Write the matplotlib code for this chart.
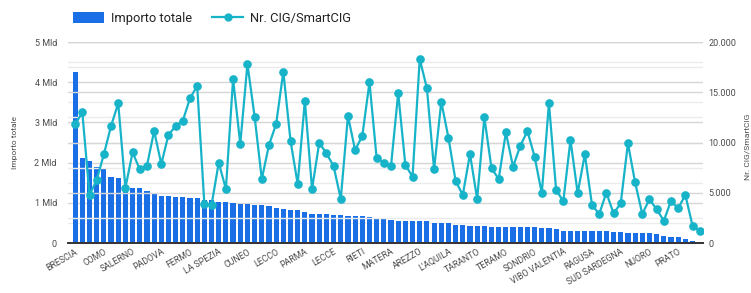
import matplotlib
matplotlib.use("Agg")
import matplotlib.pyplot as plt
import numpy as np
from matplotlib.ticker import FuncFormatter, MultipleLocator
from matplotlib.lines import Line2D
from matplotlib.patches import Patch

plt.rcParams['font.family'] = ['Roboto', 'DejaVu Sans']

tick_labels = ["BRESCIA", "COMO", "SALERNO", "PADOVA", "FERMO", "LA SPEZIA", "CUNEO",
               "LECCO", "PARMA", "LECCE", "RIETI", "MATERA", "AREZZO", "L'AQUILA",
               "TARANTO", "TERAMO", "SONDRIO", "VIBO VALENTIA", "RAGUSA", "SUD SARDEGNA",
               "NUORO", "PRATO"]

importo_mld = [4.26, 2.11, 2.05, 1.90, 1.83, 1.65, 1.62, 1.42, 1.38, 1.36,
               1.29, 1.22, 1.17, 1.17, 1.15, 1.14, 1.13, 1.11, 1.08, 1.06,
               1.03, 1.01, 0.99, 0.98, 0.97, 0.95, 0.94, 0.91, 0.88, 0.85,
               0.82, 0.82, 0.76, 0.72, 0.72, 0.72, 0.69, 0.69, 0.68, 0.68,
               0.66, 0.65, 0.61, 0.60, 0.58, 0.56, 0.56, 0.55, 0.55, 0.55,
               0.50, 0.49, 0.49, 0.46, 0.45, 0.43, 0.43, 0.42, 0.40, 0.40,
               0.40, 0.40, 0.40, 0.40, 0.39, 0.37, 0.37, 0.36, 0.31, 0.30,
               0.30, 0.30, 0.30, 0.30, 0.29, 0.27, 0.27, 0.24, 0.24, 0.24,
               0.24, 0.23, 0.17, 0.16, 0.15, 0.11, 0.05, 0.03]

nr_cig = [11800, 13000, 4780, 6270, 8830, 11640, 13900, 5500, 9020, 7330,
          7690, 11140, 7860, 10750, 11640, 12170, 14400, 15620, 3880, 3780,
          7990, 5370, 16320, 9850, 17810, 12570, 6370, 9750, 11840, 17050,
          10180, 5870, 14160, 5370, 9980, 8920, 7660, 4380, 12640, 9250,
          10650, 15990, 8430, 7990, 7680, 14920, 7760, 6600, 18310, 15390,
          7330, 14060, 10480, 6170, 4780, 8860, 4380, 12510, 7430, 6370,
          11010, 7590, 9650, 11140, 8590, 4950, 13900, 5270, 4150, 10250,
          4950, 8830, 3780, 2890, 5000, 2950, 3950, 9920, 6040, 2890,
          4350, 3350, 2220, 4180, 3450, 4780, 1720, 1220]

bar_color = "#1a6fe6"
line_color = "#17b3c8"
txt_color = "#4a4a4a"

fig = plt.figure(figsize=(7.51, 2.93), dpi=100)
ax = fig.add_axes([0.0905, 0.1706, 0.8455, 0.6860])
ax2 = ax.twinx()

x = np.arange(len(importo_mld))

# gridlines
ax.set_ylim(0, 5)
ax2.set_ylim(0, 20000)
for v in np.arange(0.5, 5.01, 0.5):
    major = abs(v - round(v)) < 1e-9
    ax.axhline(v, color="#d6d6d6" if major else "#ebebeb", lw=1.0, zorder=0)
for v in np.arange(2500, 20001, 2500):
    major = v % 5000 == 0
    ax2.axhline(v, color="#d6d6d6" if major else "#ebebeb", lw=1.0, zorder=0)

ax.bar(x, importo_mld, width=0.72, color=bar_color, zorder=2)
ax2.plot(x, nr_cig, color=line_color, lw=1.6, marker="o", markersize=5.2, zorder=3)

ax.set_xlim(-1.0, len(importo_mld) - 0.55)
ax.set_zorder(ax2.get_zorder() - 1)
ax.patch.set_visible(False)
ax2.patch.set_visible(False)

ax.yaxis.set_major_locator(MultipleLocator(1))
ax.yaxis.set_major_formatter(FuncFormatter(lambda v, p: "0" if v == 0 else f"{int(v)} Mld"))
ax2.yaxis.set_major_locator(MultipleLocator(5000))
ax2.yaxis.set_major_formatter(FuncFormatter(lambda v, p: "0" if v == 0 else f"{int(v):,}".replace(",", ".")))

ax.set_xticks(x[::4])
ax.set_xticklabels(tick_labels, rotation=30, ha="right", rotation_mode="anchor",
                   fontsize=6.3, color=txt_color)

for a in (ax, ax2):
    for s in a.spines.values():
        s.set_visible(False)
    a.tick_params(length=0)
ax.spines["bottom"].set_visible(True)
ax.spines["bottom"].set_color("#333333")
ax.spines["bottom"].set_linewidth(1.4)

ax.tick_params(axis="y", labelsize=6.5, labelcolor=txt_color, pad=8)
ax2.tick_params(axis="y", labelsize=6.5, labelcolor=txt_color, pad=4)
ax.tick_params(axis="x", pad=3)

ax.set_ylabel("Importo totale", fontsize=6, color=txt_color, labelpad=12)
fig.text(0.995, 0.5, "Nr. CIG/SmartCIG", rotation=90, fontsize=6, color=txt_color,
         ha="center", va="center")

handles = [Patch(facecolor=bar_color, edgecolor="none"),
           Line2D([0], [0], color=line_color, lw=1.6, marker="o", markersize=5)]
fig.legend(handles, ["Importo totale", "Nr. CIG/SmartCIG"], loc="upper left",
           bbox_to_anchor=(0.082, 1.0), ncol=2, frameon=False, fontsize=9.3,
           handlelength=2.4, handleheight=1.0, columnspacing=1.6, handletextpad=0.5,
           labelcolor="#222222")

fig.savefig("out.png", dpi=100)
